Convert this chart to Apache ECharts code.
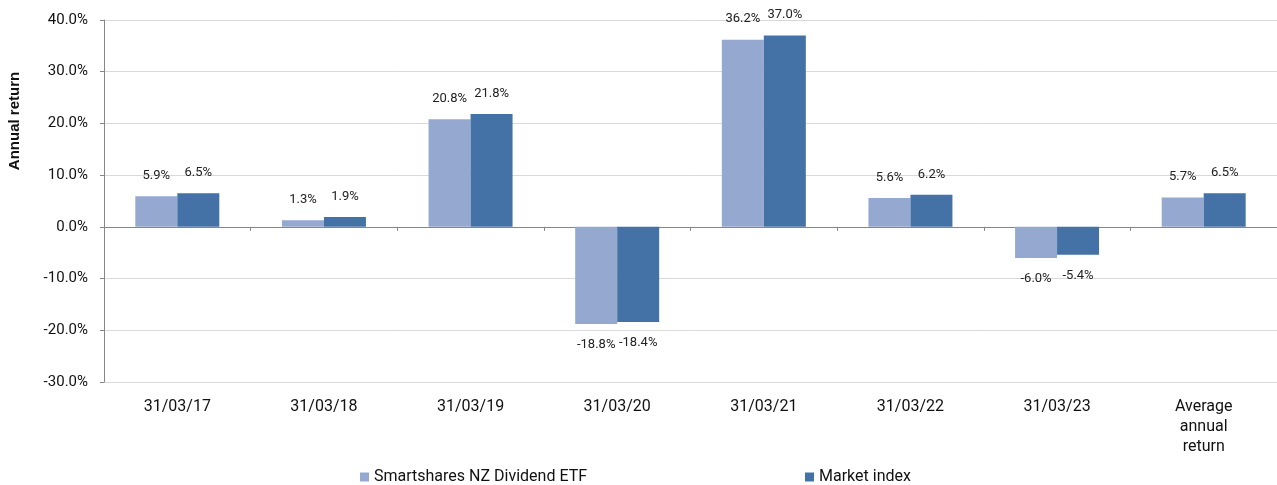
<!DOCTYPE html>
<html>
<head>
<meta charset="utf-8">
<script src="https://cdn.jsdelivr.net/npm/echarts@6/dist/echarts.min.js"></script>
<style>
  html, body { margin: 0; padding: 0; background: #fff; }
  #chart { width: 1277px; height: 485px; }
</style>
</head>
<body>
<div id="chart"></div>
<script>
// data
var categories = ['31/03/17', '31/03/18', '31/03/19', '31/03/20', '31/03/21', '31/03/22', '31/03/23', 'Average\nannual\nreturn']
var etfValues = [5.9, 1.3, 20.8, -18.8, 36.2, 5.6, -6.0, 5.7]
var indexValues = [6.5, 1.9, 21.8, -18.4, 37.0, 6.2, -5.4, 6.5]
var seriesNames = ['Smartshares NZ Dividend ETF', 'Market index']
var yTicks = { min: -30, max: 40, interval: 10 }

var FONT = 'Roboto'
var chart = echarts.init(document.getElementById('chart'))

function withLabels(values) {
  // labels go above positive bars and below negative ones
  return values.map(function(v) {
    return { value: v, label: { position: v < 0 ? 'bottom' : 'top' }}
  })
}

var barLabel = {
  show: true,
  distance: 14,
  fontFamily: FONT,
  fontSize: 13,
  color: '#222',
  formatter: function(p) { return p.value.toFixed(1) + '%' }
}

var legendText = { fontFamily: FONT, fontSize: 16, color: '#111' }

chart.setOption({
  animation: false,
  textStyle: { fontFamily: FONT },
  grid: { left: 104, right: 0, top: 20, bottom: 103 },
  legend: [{
    left: 360,
    top: 469,
    padding: 0,
    icon: 'rect',
    itemWidth: 9,
    itemHeight: 9,
    textStyle: legendText,
    data: [seriesNames[0]]
  }, {
    left: 805,
    top: 469,
    padding: 0,
    icon: 'rect',
    itemWidth: 9,
    itemHeight: 9,
    textStyle: legendText,
    data: [seriesNames[1]]
  }],
  graphic: [{
    type: 'text',
    x: 15,
    y: 121,
    rotation: Math.PI / 2,
    style: {
      text: 'Annual return',
      fontFamily: 'Liberation Sans',
      fontWeight: 'bold',
      fontSize: 15,
      fill: '#111',
      align: 'center',
      verticalAlign: 'middle'
    }
  }],
  xAxis: [{
    // zero line with tick marks
    type: 'category',
    data: categories,
    axisLine: { onZero: true, lineStyle: { color: '#868686' }},
    axisTick: { show: true, length: 4, lineStyle: { color: '#868686' }},
    axisLabel: { show: false }
  }, {
    // labels along the bottom of the plot
    type: 'category',
    position: 'bottom',
    data: categories,
    axisLine: { show: false, onZero: false },
    axisTick: { show: false },
    axisLabel: {
      margin: 15,
      fontFamily: FONT,
      fontSize: 16,
      lineHeight: 20,
      color: '#111',
      interval: 0
    }
  }],
  yAxis: {
    type: 'value',
    min: yTicks.min,
    max: yTicks.max,
    interval: yTicks.interval,
    axisLine: { show: true, lineStyle: { color: '#868686' }},
    axisTick: { show: true, length: 4, lineStyle: { color: '#868686' }},
    splitLine: { lineStyle: { color: '#d9d9d9' }},
    axisLabel: {
      margin: 16,
      fontFamily: FONT,
      fontSize: 15,
      color: '#111',
      formatter: function(v) { return v.toFixed(1) + '%' }
    }
  },
  series: [{
    name: seriesNames[0],
    type: 'bar',
    barWidth: 42,
    barGap: '0%',
    itemStyle: { color: '#95a9d0' },
    label: barLabel,
    data: withLabels(etfValues)
  }, {
    name: seriesNames[1],
    type: 'bar',
    barWidth: 42,
    barGap: '0%',
    itemStyle: { color: '#4472a7' },
    label: barLabel,
    data: withLabels(indexValues)
  }]
})
</script>
</body>
</html>
